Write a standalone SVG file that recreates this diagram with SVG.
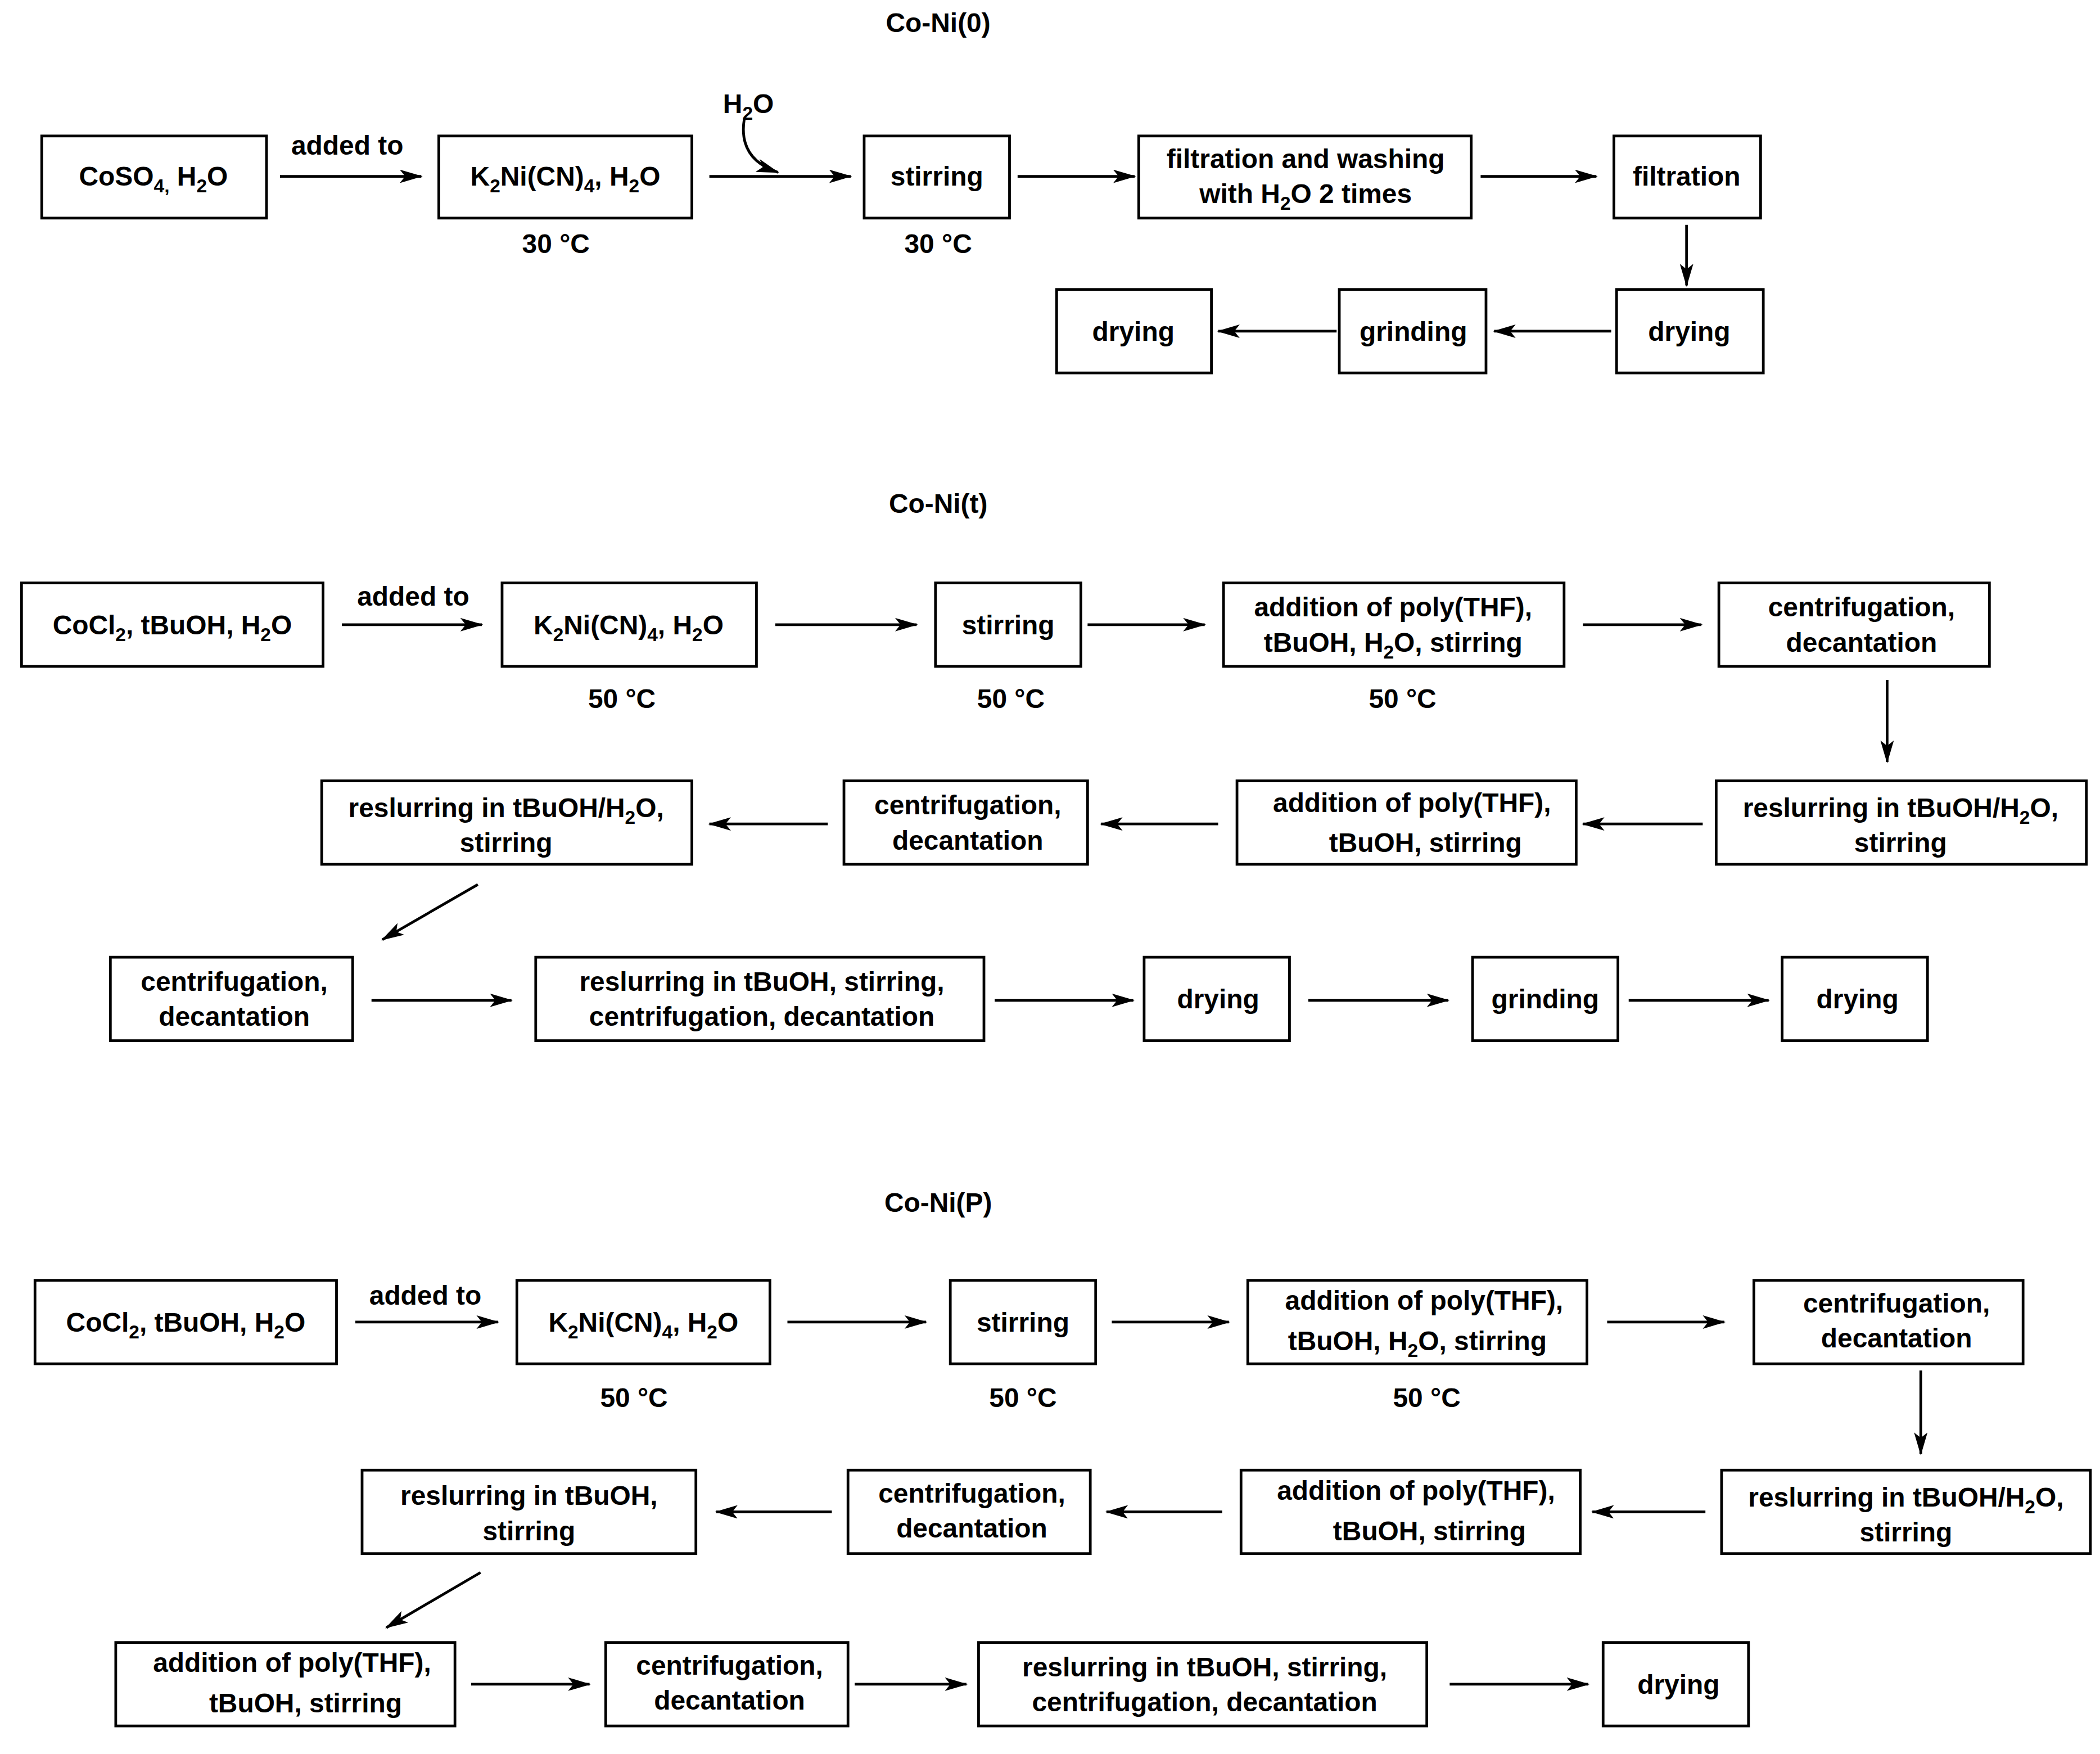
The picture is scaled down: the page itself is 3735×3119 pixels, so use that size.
<svg xmlns="http://www.w3.org/2000/svg" width="3735" height="3119" viewBox="0 0 3735 3119">
<style>
text{font-family:"Liberation Sans",Arial,sans-serif;font-weight:bold;font-size:20px;fill:#000;text-anchor:middle}
.s{font-size:14px}
rect{fill:#fff;stroke:#000;stroke-width:2}
.c line,.c path{stroke:#000;stroke-width:2;fill:none;marker-end:url(#a)}
</style>
<defs><marker id="a" markerUnits="userSpaceOnUse" markerWidth="18" markerHeight="12" refX="16" refY="5" orient="auto"><path d="M0,0 L17,5 L0,10 L4,5 Z" fill="#000" stroke="none"/></marker></defs>
<rect x="0" y="0" width="3735" height="3119" style="stroke:none"/>
<g transform="scale(2.394)">
<text x="697" y="24">Co-Ni(0)</text>
<text x="697" y="381">Co-Ni(t)</text>
<text x="697" y="900">Co-Ni(P)</text>
<text x="258" y="115">added to</text>
<text x="556" y="84">H<tspan class="s" dy="5">2</tspan><tspan dy="-5">O</tspan></text>
<text x="413" y="188">30 °C</text><text x="697" y="188">30 °C</text>
<text x="307" y="450">added to</text>
<text x="462" y="526">50 °C</text><text x="751" y="526">50 °C</text><text x="1042" y="526">50 °C</text>
<text x="316" y="969">added to</text>
<text x="471" y="1045">50 °C</text><text x="760" y="1045">50 °C</text><text x="1060" y="1045">50 °C</text>

<g id="n1"><rect x="31" y="101" width="167" height="61"/><text x="114" y="138">CoSO<tspan class="s" dy="5">4,</tspan><tspan dy="-5"> H</tspan><tspan class="s" dy="5">2</tspan><tspan dy="-5">O</tspan></text></g>
<g id="n2"><rect x="326" y="101" width="188" height="61"/><text x="420" y="138">K<tspan class="s" dy="5">2</tspan><tspan dy="-5">Ni(CN)</tspan><tspan class="s" dy="5">4</tspan><tspan dy="-5">, H</tspan><tspan class="s" dy="5">2</tspan><tspan dy="-5">O</tspan></text></g>
<g id="n3"><rect x="642" y="101" width="108" height="61"/><text x="696" y="138">stirring</text></g>
<g id="n4"><rect x="846" y="101" width="247" height="61"/><text x="970" y="125">filtration and washing</text><text x="970" y="151">with H<tspan class="s" dy="5">2</tspan><tspan dy="-5">O 2 times</tspan></text></g>
<g id="n5"><rect x="1199" y="101" width="109" height="61"/><text x="1253" y="138">filtration</text></g>
<g id="n6"><rect x="1201" y="215" width="109" height="62"/><text x="1255" y="253">drying</text></g>
<g id="n7"><rect x="995" y="215" width="109" height="62"/><text x="1050" y="253">grinding</text></g>
<g id="n8"><rect x="785" y="215" width="115" height="62"/><text x="842" y="253">drying</text></g>

<g id="t1"><rect x="16" y="433" width="224" height="62"/><text x="128" y="471">CoCl<tspan class="s" dy="5">2</tspan><tspan dy="-5">, tBuOH, H</tspan><tspan class="s" dy="5">2</tspan><tspan dy="-5">O</tspan></text></g>
<g id="t2"><rect x="373" y="433" width="189" height="62"/><text x="467" y="471">K<tspan class="s" dy="5">2</tspan><tspan dy="-5">Ni(CN)</tspan><tspan class="s" dy="5">4</tspan><tspan dy="-5">, H</tspan><tspan class="s" dy="5">2</tspan><tspan dy="-5">O</tspan></text></g>
<g id="t3"><rect x="695" y="433" width="108" height="62"/><text x="749" y="471">stirring</text></g>
<g id="t4"><rect x="909" y="433" width="253" height="62"/><text x="1035" y="458">addition of poly(THF),</text><text x="1035" y="484">tBuOH, H<tspan class="s" dy="5">2</tspan><tspan dy="-5">O, stirring</tspan></text></g>
<g id="t5"><rect x="1277" y="433" width="201" height="62"/><text x="1383" y="458">centrifugation,</text><text x="1383" y="484">decantation</text></g>
<g id="t6"><rect x="1275" y="580" width="275" height="62"/><text x="1412" y="607">reslurring in tBuOH/H<tspan class="s" dy="5">2</tspan><tspan dy="-5">O,</tspan></text><text x="1412" y="633">stirring</text></g>
<g id="t7"><rect x="919" y="580" width="252" height="62"/><text x="1049" y="603">addition of poly(THF),</text><text x="1059" y="633">tBuOH, stirring</text></g>
<g id="t8"><rect x="627" y="580" width="181" height="62"/><text x="719" y="605">centrifugation,</text><text x="719" y="631">decantation</text></g>
<g id="t9"><rect x="239" y="580" width="275" height="62"/><text x="376" y="607">reslurring in tBuOH/H<tspan class="s" dy="5">2</tspan><tspan dy="-5">O,</tspan></text><text x="376" y="633">stirring</text></g>
<g id="t10"><rect x="82" y="711" width="180" height="62"/><text x="174" y="736">centrifugation,</text><text x="174" y="762">decantation</text></g>
<g id="t11"><rect x="398" y="711" width="333" height="62"/><text x="566" y="736">reslurring in tBuOH, stirring,</text><text x="566" y="762">centrifugation, decantation</text></g>
<g id="t12"><rect x="850" y="711" width="108" height="62"/><text x="905" y="749">drying</text></g>
<g id="t13"><rect x="1094" y="711" width="108" height="62"/><text x="1148" y="749">grinding</text></g>
<g id="t14"><rect x="1324" y="711" width="108" height="62"/><text x="1380" y="749">drying</text></g>

<g id="p1"><rect x="26" y="951" width="224" height="62"/><text x="138" y="989">CoCl<tspan class="s" dy="5">2</tspan><tspan dy="-5">, tBuOH, H</tspan><tspan class="s" dy="5">2</tspan><tspan dy="-5">O</tspan></text></g>
<g id="p2"><rect x="384" y="951" width="188" height="62"/><text x="478" y="989">K<tspan class="s" dy="5">2</tspan><tspan dy="-5">Ni(CN)</tspan><tspan class="s" dy="5">4</tspan><tspan dy="-5">, H</tspan><tspan class="s" dy="5">2</tspan><tspan dy="-5">O</tspan></text></g>
<g id="p3"><rect x="706" y="951" width="108" height="62"/><text x="760" y="989">stirring</text></g>
<g id="p4"><rect x="927" y="951" width="252" height="62"/><text x="1058" y="973">addition of poly(THF),</text><text x="1053" y="1003">tBuOH, H<tspan class="s" dy="5">2</tspan><tspan dy="-5">O, stirring</tspan></text></g>
<g id="p5"><rect x="1303" y="951" width="200" height="62"/><text x="1409" y="975">centrifugation,</text><text x="1409" y="1001">decantation</text></g>
<g id="p6"><rect x="1279" y="1092" width="274" height="62"/><text x="1416" y="1119">reslurring in tBuOH/H<tspan class="s" dy="5">2</tspan><tspan dy="-5">O,</tspan></text><text x="1416" y="1145">stirring</text></g>
<g id="p7"><rect x="922" y="1092" width="252" height="62"/><text x="1052" y="1114">addition of poly(THF),</text><text x="1062" y="1144">tBuOH, stirring</text></g>
<g id="p8"><rect x="630" y="1092" width="180" height="62"/><text x="722" y="1116">centrifugation,</text><text x="722" y="1142">decantation</text></g>
<g id="p9"><rect x="269" y="1092" width="248" height="62"/><text x="393" y="1118">reslurring in tBuOH,</text><text x="393" y="1144">stirring</text></g>
<g id="p10"><rect x="86" y="1220" width="252" height="62"/><text x="217" y="1242">addition of poly(THF),</text><text x="227" y="1272">tBuOH, stirring</text></g>
<g id="p11"><rect x="450" y="1220" width="180" height="62"/><text x="542" y="1244">centrifugation,</text><text x="542" y="1270">decantation</text></g>
<g id="p12"><rect x="727" y="1220" width="333" height="62"/><text x="895" y="1245">reslurring in tBuOH, stirring,</text><text x="895" y="1271">centrifugation, decantation</text></g>
<g id="p13"><rect x="1191" y="1220" width="108" height="62"/><text x="1247" y="1258">drying</text></g>

<g class="c" id="connectors">
<line x1="208" y1="131" x2="313" y2="131"/>
<line x1="527" y1="131" x2="632" y2="131"/>
<path d="M553,88 Q548,118 578,128"/>
<line x1="756" y1="131" x2="843" y2="131"/>
<line x1="1100" y1="131" x2="1186" y2="131"/>
<line x1="1253" y1="167" x2="1253" y2="212"/>
<line x1="1197" y1="246" x2="1110" y2="246"/>
<line x1="993" y1="246" x2="905" y2="246"/>

<line x1="254" y1="464" x2="358" y2="464"/>
<line x1="576" y1="464" x2="681" y2="464"/>
<line x1="808" y1="464" x2="895" y2="464"/>
<line x1="1176" y1="464" x2="1264" y2="464"/>
<line x1="1402" y1="505" x2="1402" y2="566"/>
<line x1="1265" y1="612" x2="1176" y2="612"/>
<line x1="905" y1="612" x2="818" y2="612"/>
<line x1="615" y1="612" x2="527" y2="612"/>
<line x1="355" y1="657" x2="284" y2="698"/>
<line x1="276" y1="743" x2="380" y2="743"/>
<line x1="739" y1="743" x2="842" y2="743"/>
<line x1="972" y1="743" x2="1076" y2="743"/>
<line x1="1210" y1="743" x2="1314" y2="743"/>

<line x1="264" y1="982" x2="370" y2="982"/>
<line x1="585" y1="982" x2="688" y2="982"/>
<line x1="826" y1="982" x2="913" y2="982"/>
<line x1="1194" y1="982" x2="1281" y2="982"/>
<line x1="1427" y1="1018" x2="1427" y2="1080"/>
<line x1="1267" y1="1123" x2="1183" y2="1123"/>
<line x1="908" y1="1123" x2="822" y2="1123"/>
<line x1="618" y1="1123" x2="532" y2="1123"/>
<line x1="357" y1="1168" x2="287" y2="1209"/>
<line x1="350" y1="1251" x2="438" y2="1251"/>
<line x1="635" y1="1251" x2="718" y2="1251"/>
<line x1="1077" y1="1251" x2="1180" y2="1251"/>
</g>
</g>
</svg>
